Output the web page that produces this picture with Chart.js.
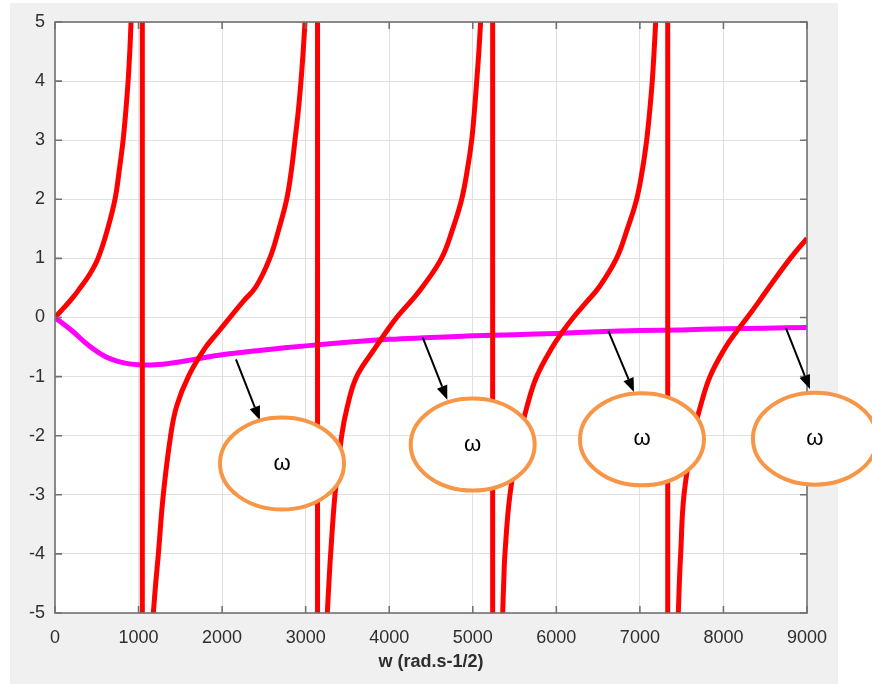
<!DOCTYPE html>
<html><head><meta charset="utf-8">
<script src="https://cdn.jsdelivr.net/npm/chart.js@4/dist/chart.umd.min.js"></script>
<style>html,body{margin:0;padding:0;background:#fff;}canvas{display:block;}</style>
</head><body>
<canvas id="c" width="872" height="684"></canvas>
<script>
// ---- axis ticks ----
const xTicks = [0,1000,2000,3000,4000,5000,6000,7000,8000,9000];
const yTicks = [-5,-4,-3,-2,-1,0,1,2,3,4,5];
const xTitle = 'w (rad.s-1/2)';

// ---- red curve (null = break, ±40 = off-chart ends of the jump lines) ----
const redW = [0,110,215,300,410,515,630,718,770,815,848,875,895,910, 980,
  1045,1045, 1110,
  1177,1205,1237,1296,1384,1456,1596,1795,1950,2094,2250,2405,2570,2680,2773,2830,2872,2912,2944,2970,2992, 3070,
  3142,3142, 3200,
  3259,3278,3299,3351,3431,3500,3610,3830,3960,4089,4250,4400,4625,4760,4867,4935,4987,5020,5047,5073,5094, 5170,
  5238,5238, 5300,
  5358,5370,5385,5445,5565,5650,5765,5944,6070,6203,6360,6515,6720,6850,6961,7030,7081,7118,7148,7170,7189, 7260,
  7333,7333, 7400,
  7460,7472,7488,7528,7639,7725,7839,8018,8150,8285,8420,8550,8800,9000];
const redV = [0,0.17,0.34,0.5,0.72,1,1.5,2,2.5,3,3.5,4,4.5,5, null,
  40,-40, null,
  -5,-4.5,-4,-3,-2,-1.5,-1,-0.52,-0.25,0,0.27,0.52,1,1.5,2,2.5,3,3.5,4,4.5,5, null,
  40,-40, null,
  -5,-4.5,-4,-3,-2,-1.5,-1,-0.52,-0.25,0,0.26,0.52,1,1.5,2,2.5,3,3.5,4,4.5,5, null,
  40,-40, null,
  -5,-4.5,-4,-3,-2,-1.5,-1,-0.52,-0.25,0,0.26,0.52,1,1.5,2,2.5,3,3.5,4,4.5,5, null,
  40,-40, null,
  -5,-4.5,-4,-3,-2,-1.5,-1,-0.52,-0.25,0,0.26,0.52,1,1.34];

// ---- magenta curve ----
const magW = [0,200,400,600,800,1000,1200,1400,1700,2000,2500,3000,3500,4000,4500,5000,5500,6000,6500,7000,7500,8000,8500,9000];
const magV = [0,-0.22,-0.47,-0.66,-0.76,-0.80,-0.80,-0.77,-0.70,-0.63,-0.55,-0.48,-0.42,-0.37,-0.34,-0.31,-0.29,-0.27,-0.24,-0.22,-0.21,-0.19,-0.18,-0.17];

// ---- annotations (data coordinates) ----
const noteLabels = ['ω','ω','ω','ω'];
const noteW = [2717,4999,7025,9095];
const noteV = [-2.47,-2.15,-2.06,-2.05];
const arrowFromW = [2166,4400,6622,8748];
const arrowFromV = [-0.71,-0.335,-0.226,-0.18];
const arrowToW = [2453,4695,6929,9035];
const arrowToV = [-1.74,-1.39,-1.26,-1.21];

const FONT = "'Liberation Sans', Arial, Helvetica, sans-serif";

const bgPlugin = {
  id:'bg',
  beforeDraw(chart){
    const {ctx, chartArea:a} = chart;
    ctx.save();
    ctx.fillStyle='#ffffff'; ctx.fillRect(0,0,chart.width,chart.height);
    ctx.fillStyle='#f0f0f0'; ctx.fillRect(10,3,828,681);
    ctx.fillStyle='#ffffff'; ctx.fillRect(a.left,a.top,a.right-a.left,a.bottom-a.top);
    ctx.restore();
  }
};

const framePlugin = {
  id:'frame',
  afterDraw(chart){
    const {ctx, chartArea:a, scales:{x,y}} = chart;
    ctx.save();
    ctx.strokeStyle='#727272'; ctx.lineWidth=1.6;
    ctx.strokeRect(a.left,a.top,a.right-a.left,a.bottom-a.top);
    ctx.beginPath();
    xTicks.forEach(v=>{const p=x.getPixelForValue(v);
      ctx.moveTo(p,a.bottom); ctx.lineTo(p,a.bottom-7);
      ctx.moveTo(p,a.top); ctx.lineTo(p,a.top+7);});
    yTicks.forEach(v=>{const p=y.getPixelForValue(v);
      ctx.moveTo(a.left,p); ctx.lineTo(a.left+7,p);
      ctx.moveTo(a.right,p); ctx.lineTo(a.right-7,p);});
    ctx.stroke();

    // arrows
    for(let i=0;i<arrowFromW.length;i++){
      const x0=x.getPixelForValue(arrowFromW[i]), y0=y.getPixelForValue(arrowFromV[i]);
      const x1=x.getPixelForValue(arrowToW[i]), y1=y.getPixelForValue(arrowToV[i]);
      const ang=Math.atan2(y1-y0,x1-x0), L=14, W=5.5;
      const bx=x1-L*Math.cos(ang), by=y1-L*Math.sin(ang);
      ctx.strokeStyle='#000'; ctx.lineWidth=2;
      ctx.beginPath(); ctx.moveTo(x0,y0); ctx.lineTo(bx,by); ctx.stroke();
      ctx.fillStyle='#000';
      ctx.beginPath(); ctx.moveTo(x1,y1);
      ctx.lineTo(bx+W*Math.sin(ang), by-W*Math.cos(ang));
      ctx.lineTo(bx-W*Math.sin(ang), by+W*Math.cos(ang));
      ctx.closePath(); ctx.fill();
    }
    // ellipses
    for(let i=0;i<noteW.length;i++){
      const cx=x.getPixelForValue(noteW[i]), cy=y.getPixelForValue(noteV[i]);
      ctx.beginPath(); ctx.ellipse(cx,cy,62,46,0,0,Math.PI*2);
      ctx.fillStyle='#ffffff'; ctx.fill();
      ctx.strokeStyle='#F79646'; ctx.lineWidth=4; ctx.stroke();
      ctx.fillStyle='#000'; ctx.font="22px "+FONT;
      ctx.textAlign='center'; ctx.textBaseline='middle';
      ctx.fillText(noteLabels[i],cx,cy);
    }
    ctx.restore();
  }
};

const redData = redW.map((w,i)=>({x:w,y:redV[i]}));
const magData = magW.map((w,i)=>({x:w,y:magV[i]}));

new Chart(document.getElementById('c'),{
  type:'line',
  data:{datasets:[
    {data:redData,borderColor:'#ff0000',borderWidth:5,pointRadius:0,tension:0.4,spanGaps:false,clip:0,fill:false},
    {data:magData,borderColor:'#ff00ff',borderWidth:5,pointRadius:0,tension:0.4,clip:0,fill:false}
  ]},
  options:{
    responsive:false, animation:false, devicePixelRatio:1,
    layout:{padding:{left:0,top:22,right:65,bottom:0}},
    plugins:{legend:{display:false},tooltip:{enabled:false}},
    scales:{
      x:{type:'linear',min:0,max:9000,
        afterBuildTicks:s=>{s.ticks=xTicks.map(v=>({value:v}));},
        afterFit:s=>{s.height=71;},
        grid:{color:'#e0e0e0',lineWidth:1,drawTicks:false},
        border:{display:false},
        ticks:{callback:v=>String(v),font:{size:18,family:FONT},color:'#2e2e2e',padding:14,maxRotation:0,autoSkip:false},
        title:{display:true,text:xTitle,font:{size:18,weight:'bold',family:FONT},color:'#2e2e2e',padding:{top:0,bottom:11}}
      },
      y:{type:'linear',min:-5,max:5,
        afterBuildTicks:s=>{s.ticks=yTicks.map(v=>({value:v}));},
        afterFit:s=>{s.width=55;},
        grid:{color:'#e0e0e0',lineWidth:1,drawTicks:false},
        border:{display:false},
        ticks:{callback:v=>String(v),font:{size:18,family:FONT},color:'#2e2e2e',padding:10,autoSkip:false}
      }
    }
  },
  plugins:[bgPlugin,framePlugin]
});
</script>
</body></html>
